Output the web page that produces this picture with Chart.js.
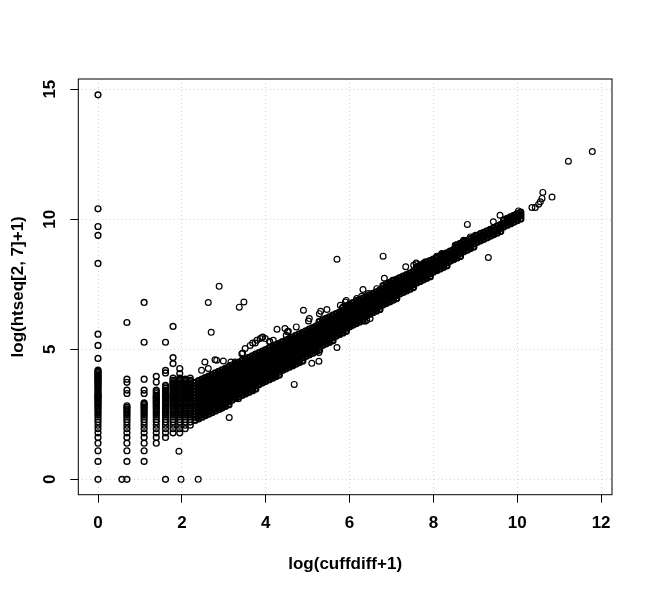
<!DOCTYPE html>
<html>
<head>
<meta charset="utf-8">
<title>cuffdiff vs htseq</title>
<script src="https://cdn.jsdelivr.net/npm/chart.js"></script>
<style>
  body { margin: 0; background: #fff; }
  canvas { display: block; }
</style>
</head>
<body>
<canvas id="scatter" width="653" height="593"></canvas>
<script>
// tick labels
const xTicks = [0, 2, 4, 6, 8, 10, 12];
const yTicks = [0, 5, 10, 15];

// low counts: vertical columns of points at discrete x values
const colX = [0, 0.57, 0.69, 1.10, 1.39, 1.61, 1.79, 1.95, 2.08, 2.20];
const colY = [
  [0, 0.69, 1.10, 1.39, 1.61, 1.79, 1.95, 2.08, 2.20, 2.30, 2.40, 2.48, 2.56, 2.64, 2.71, 2.77, 2.83, 2.89, 2.94, 3.00, 3.04, 3.09, 3.14, 3.18, 3.22, 3.26, 3.30, 3.37, 3.43, 3.50, 3.56, 3.61, 3.66, 3.71, 3.76, 3.81, 3.85, 3.89, 3.93, 3.97, 4.01, 4.06, 4.11, 4.16, 4.20, 4.65, 5.15, 5.58, 8.30, 9.38, 9.72, 10.40, 14.78],
  [0],
  [0, 0.69, 1.10, 1.39, 1.61, 1.79, 1.95, 2.08, 2.20, 2.30, 2.40, 2.48, 2.56, 2.64, 2.71, 2.77, 2.83, 3.30, 3.43, 3.73, 3.85, 6.03],
  [0.69, 1.10, 1.39, 1.61, 1.79, 1.95, 2.08, 2.20, 2.30, 2.40, 2.48, 2.56, 2.64, 2.71, 2.77, 2.83, 2.89, 2.94, 3.30, 3.43, 3.85, 5.27, 6.80],
  [1.39, 1.61, 1.79, 1.95, 2.08, 2.20, 2.30, 2.40, 2.48, 2.56, 2.64, 2.71, 2.77, 2.83, 2.89, 2.94, 3.00, 3.04, 3.09, 3.14, 3.18, 3.22, 3.30, 3.37, 3.43, 3.74, 3.96],
  [0, 1.61, 1.79, 1.95, 2.08, 2.20, 2.30, 2.40, 2.48, 2.56, 2.64, 2.71, 2.77, 2.83, 2.89, 2.94, 3.00, 3.04, 3.09, 3.14, 3.18, 3.22, 3.26, 3.30, 3.37, 3.43, 3.50, 3.56, 3.61, 4.09, 4.19, 5.27],
  [1.79, 1.95, 2.08, 2.20, 2.30, 2.40, 2.48, 2.56, 2.64, 2.71, 2.77, 2.83, 2.89, 2.94, 3.00, 3.04, 3.09, 3.14, 3.18, 3.22, 3.26, 3.30, 3.37, 3.43, 3.50, 3.56, 3.61, 3.66, 3.71, 3.76, 3.81, 3.89, 4.45, 4.68, 5.88],
  [1.79, 1.95, 2.08, 2.20, 2.30, 2.40, 2.48, 2.56, 2.64, 2.71, 2.77, 2.83, 2.89, 2.94, 3.00, 3.04, 3.09, 3.14, 3.18, 3.22, 3.26, 3.30, 3.37, 3.43, 3.50, 3.56, 3.61, 3.66, 3.71, 3.76, 3.81, 3.85, 3.89, 4.07, 4.26],
  [1.95, 2.08, 2.20, 2.30, 2.40, 2.48, 2.56, 2.64, 2.71, 2.77, 2.83, 2.89, 2.94, 3.00, 3.04, 3.09, 3.14, 3.18, 3.22, 3.26, 3.30, 3.33, 3.37, 3.40, 3.43, 3.47, 3.50, 3.53, 3.56, 3.61, 3.66, 3.71, 3.76, 3.81, 3.85],
  [2.08, 2.20, 2.30, 2.40, 2.48, 2.56, 2.64, 2.71, 2.77, 2.83, 2.89, 2.94, 3.00, 3.04, 3.09, 3.14, 3.18, 3.22, 3.26, 3.30, 3.33, 3.37, 3.40, 3.43, 3.47, 3.50, 3.53, 3.56, 3.61, 3.66, 3.71, 3.76, 3.81, 3.89]
];

// the dense diagonal band, read as vertical slices
const bandX = [2.32, 2.40, 2.48, 2.56, 2.64, 2.72, 2.80, 2.88, 2.96, 3.04, 3.12, 3.20, 3.28, 3.36, 3.44, 3.52, 3.60, 3.68, 3.76, 3.84,
  3.92, 4.00, 4.08, 4.16, 4.24, 4.32, 4.40, 4.48, 4.56, 4.64, 4.72, 4.80, 4.88, 4.96, 5.04, 5.12, 5.20, 5.28, 5.36, 5.44,
  5.52, 5.60, 5.68, 5.76, 5.84, 5.92, 6.00, 6.08, 6.16, 6.24, 6.32, 6.40, 6.48, 6.56, 6.64, 6.72, 6.80, 6.88, 6.96, 7.04,
  7.12, 7.20, 7.28, 7.36, 7.44, 7.52, 7.60, 7.68, 7.76, 7.84, 7.92, 8.00, 8.08, 8.16, 8.24, 8.32, 8.40, 8.48, 8.56, 8.64,
  8.72, 8.80, 8.88, 8.96, 9.04, 9.12, 9.20, 9.28, 9.36, 9.44, 9.52, 9.60, 9.68, 9.76, 9.84, 9.92, 10.00, 10.08];
const bandY = [
  [2.28, 2.40, 2.52, 2.64, 2.76, 2.88, 3.00, 3.12, 3.24, 3.36, 3.48, 3.60, 3.72],
  [2.34, 2.46, 2.58, 2.70, 2.82, 2.94, 3.06, 3.18, 3.30, 3.42, 3.54, 3.66, 3.78],
  [2.40, 2.52, 2.64, 2.76, 2.88, 3.00, 3.12, 3.24, 3.36, 3.48, 3.60, 3.72, 3.84],
  [2.46, 2.58, 2.70, 2.82, 2.94, 3.06, 3.18, 3.30, 3.42, 3.54, 3.66, 3.78, 3.90],
  [2.52, 2.64, 2.76, 2.88, 3.00, 3.12, 3.24, 3.36, 3.48, 3.60, 3.72, 3.84, 3.96],
  [2.58, 2.70, 2.82, 2.94, 3.06, 3.18, 3.30, 3.42, 3.54, 3.66, 3.78, 3.90, 4.02],
  [2.64, 2.76, 2.88, 3.00, 3.12, 3.24, 3.36, 3.48, 3.60, 3.72, 3.84, 3.96, 4.08],
  [2.70, 2.82, 2.94, 3.06, 3.18, 3.30, 3.42, 3.54, 3.66, 3.78, 3.90, 4.02, 4.14],
  [2.76, 2.88, 3.00, 3.12, 3.24, 3.36, 3.48, 3.60, 3.72, 3.84, 3.96, 4.08, 4.20],
  [2.82, 2.94, 3.06, 3.18, 3.30, 3.42, 3.54, 3.66, 3.78, 3.90, 4.02, 4.14, 4.26],
  [2.88, 3.00, 3.12, 3.24, 3.36, 3.48, 3.60, 3.72, 3.84, 3.96, 4.08, 4.20, 4.32],
  [3.06, 3.18, 3.30, 3.42, 3.54, 3.66, 3.78, 3.90, 4.02, 4.14, 4.26, 4.38],
  [3.12, 3.24, 3.36, 3.48, 3.60, 3.72, 3.84, 3.96, 4.08, 4.20, 4.32, 4.44],
  [3.18, 3.30, 3.42, 3.54, 3.66, 3.78, 3.90, 4.02, 4.14, 4.26, 4.38, 4.50],
  [3.24, 3.36, 3.48, 3.60, 3.72, 3.84, 3.96, 4.08, 4.20, 4.32, 4.44, 4.56],
  [3.30, 3.42, 3.54, 3.66, 3.78, 3.90, 4.02, 4.14, 4.26, 4.38, 4.50, 4.62],
  [3.36, 3.48, 3.60, 3.72, 3.84, 3.96, 4.08, 4.20, 4.32, 4.44, 4.56, 4.68],
  [3.42, 3.54, 3.66, 3.78, 3.90, 4.02, 4.14, 4.26, 4.38, 4.50, 4.62, 4.74],
  [3.48, 3.60, 3.72, 3.84, 3.96, 4.08, 4.20, 4.32, 4.44, 4.56, 4.68, 4.80],
  [3.66, 3.78, 3.90, 4.02, 4.14, 4.26, 4.38, 4.50, 4.62, 4.74, 4.86],
  [3.72, 3.84, 3.96, 4.08, 4.20, 4.32, 4.44, 4.56, 4.68, 4.80, 4.92],
  [3.78, 3.90, 4.02, 4.14, 4.26, 4.38, 4.50, 4.62, 4.74, 4.86, 4.98],
  [3.84, 3.96, 4.08, 4.20, 4.32, 4.44, 4.56, 4.68, 4.80, 4.92, 5.04],
  [3.90, 4.02, 4.14, 4.26, 4.38, 4.50, 4.62, 4.74, 4.86, 4.98, 5.10],
  [3.96, 4.08, 4.20, 4.32, 4.44, 4.56, 4.68, 4.80, 4.92, 5.04, 5.16],
  [4.02, 4.14, 4.26, 4.38, 4.50, 4.62, 4.74, 4.86, 4.98, 5.10, 5.22],
  [4.20, 4.32, 4.44, 4.56, 4.68, 4.80, 4.92, 5.04, 5.16, 5.28],
  [4.26, 4.38, 4.50, 4.62, 4.74, 4.86, 4.98, 5.10, 5.22, 5.34],
  [4.32, 4.44, 4.56, 4.68, 4.80, 4.92, 5.04, 5.16, 5.28, 5.40],
  [4.38, 4.50, 4.62, 4.74, 4.86, 4.98, 5.10, 5.22, 5.34, 5.46],
  [4.44, 4.56, 4.68, 4.80, 4.92, 5.04, 5.16, 5.28, 5.40, 5.52],
  [4.50, 4.62, 4.74, 4.86, 4.98, 5.10, 5.22, 5.34, 5.46, 5.58],
  [4.56, 4.68, 4.80, 4.92, 5.04, 5.16, 5.28, 5.40, 5.52, 5.64],
  [4.74, 4.86, 4.98, 5.10, 5.22, 5.34, 5.46, 5.58, 5.70],
  [4.80, 4.92, 5.04, 5.16, 5.28, 5.40, 5.52, 5.64, 5.76],
  [4.86, 4.98, 5.10, 5.22, 5.34, 5.46, 5.58, 5.70, 5.82],
  [4.92, 5.04, 5.16, 5.28, 5.40, 5.52, 5.64, 5.76, 5.88],
  [4.98, 5.10, 5.22, 5.34, 5.46, 5.58, 5.70, 5.82, 5.94, 6.06],
  [5.16, 5.28, 5.40, 5.52, 5.64, 5.76, 5.88, 6.00, 6.12],
  [5.22, 5.34, 5.46, 5.58, 5.70, 5.82, 5.94, 6.06, 6.18],
  [5.28, 5.40, 5.52, 5.64, 5.76, 5.88, 6.00, 6.12, 6.24],
  [5.34, 5.46, 5.58, 5.70, 5.82, 5.94, 6.06, 6.18, 6.30],
  [5.52, 5.64, 5.76, 5.88, 6.00, 6.12, 6.24, 6.36],
  [5.58, 5.70, 5.82, 5.94, 6.06, 6.18, 6.30, 6.42],
  [5.64, 5.76, 5.88, 6.00, 6.12, 6.24, 6.36, 6.48, 6.60],
  [5.70, 5.82, 5.94, 6.06, 6.18, 6.30, 6.42, 6.54, 6.66],
  [5.88, 6.00, 6.12, 6.24, 6.36, 6.48, 6.60, 6.72],
  [5.94, 6.06, 6.18, 6.30, 6.42, 6.54, 6.66, 6.78],
  [6.00, 6.12, 6.24, 6.36, 6.48, 6.60, 6.72, 6.84],
  [6.06, 6.18, 6.30, 6.42, 6.54, 6.66, 6.78, 6.90],
  [6.12, 6.24, 6.36, 6.48, 6.60, 6.72, 6.84, 6.96],
  [6.30, 6.42, 6.54, 6.66, 6.78, 6.90, 7.02],
  [6.36, 6.48, 6.60, 6.72, 6.84, 6.96, 7.08],
  [6.42, 6.54, 6.66, 6.78, 6.90, 7.02, 7.14],
  [6.48, 6.60, 6.72, 6.84, 6.96, 7.08, 7.20],
  [6.54, 6.66, 6.78, 6.90, 7.02, 7.14, 7.26],
  [6.72, 6.84, 6.96, 7.08, 7.20, 7.32, 7.44],
  [6.78, 6.90, 7.02, 7.14, 7.26, 7.38, 7.50],
  [6.84, 6.96, 7.08, 7.20, 7.32, 7.44, 7.56],
  [6.90, 7.02, 7.14, 7.26, 7.38, 7.50, 7.62],
  [6.96, 7.08, 7.20, 7.32, 7.44, 7.56, 7.68],
  [7.14, 7.26, 7.38, 7.50, 7.62, 7.74],
  [7.20, 7.32, 7.44, 7.56, 7.68, 7.80],
  [7.26, 7.38, 7.50, 7.62, 7.74, 7.86],
  [7.32, 7.44, 7.56, 7.68, 7.80, 7.92],
  [7.38, 7.50, 7.62, 7.74, 7.86, 7.98],
  [7.56, 7.68, 7.80, 7.92, 8.04, 8.16],
  [7.62, 7.74, 7.86, 7.98, 8.10, 8.22],
  [7.68, 7.80, 7.92, 8.04, 8.16, 8.28],
  [7.74, 7.86, 7.98, 8.10, 8.22, 8.34],
  [7.80, 7.92, 8.04, 8.16, 8.28, 8.40],
  [7.98, 8.10, 8.22, 8.34, 8.46],
  [8.04, 8.16, 8.28, 8.40, 8.52],
  [8.10, 8.22, 8.34, 8.46, 8.58],
  [8.16, 8.28, 8.40, 8.52, 8.64],
  [8.22, 8.34, 8.46, 8.58, 8.70],
  [8.40, 8.52, 8.64, 8.76],
  [8.46, 8.58, 8.70, 8.82],
  [8.52, 8.64, 8.76, 8.88, 9.00],
  [8.58, 8.70, 8.82, 8.94, 9.06],
  [8.76, 8.88, 9.00, 9.12],
  [8.82, 8.94, 9.06, 9.18],
  [8.88, 9.00, 9.12, 9.24],
  [8.94, 9.06, 9.18, 9.30],
  [9.12, 9.24, 9.36],
  [9.18, 9.30, 9.42],
  [9.24, 9.36, 9.48],
  [9.30, 9.42, 9.54],
  [9.36, 9.48, 9.60],
  [9.42, 9.54, 9.66],
  [9.48, 9.60, 9.72],
  [9.54, 9.66, 9.78],
  [9.72, 9.84, 9.96],
  [9.78, 9.90, 10.02],
  [9.84, 9.96, 10.08],
  [9.90, 10.02, 10.14],
  [9.96, 10.08, 10.20],
  [10.02, 10.14, 10.26]
];

// scattered points: fringe along the band and outliers
const outX = [1.93, 1.98, 2.39, 3.13, 4.68, 5.10, 5.27, 5.27, 5.70, 6.41, 6.37, 6.49, 9.31, 2.91, 3.35, 3.69, 4.22,
  2.70, 2.63, 2.89, 3.37, 3.48, 4.27, 4.90, 5.70, 6.80, 6.32, 6.83, 7.34, 8.81, 9.59, 9.43, 10.03, 10.07,
  10.35, 10.43, 10.51, 10.55, 10.59, 10.61, 10.83, 11.22, 11.79,
  2.47, 2.55, 2.63, 2.79, 2.83, 2.99, 3.15, 3.17, 3.27, 3.29, 3.43, 3.45, 3.51, 3.63, 3.69, 3.75, 3.79, 3.87,
  3.91, 3.93, 3.99, 4.09, 4.10, 4.18, 4.46, 4.49, 4.52, 4.54, 4.73, 5.02, 5.04, 5.28, 5.31, 5.46, 5.78, 5.90,
  5.92, 6.17, 6.17, 6.29, 6.45, 6.65, 7.03, 7.05, 7.17, 7.53, 7.59, 7.59, 7.84, 7.80, 8.08, 8.20, 8.20, 8.28,
  8.52, 8.54, 8.56, 8.66, 8.72, 8.72, 8.88, 9.00, 9.12, 9.79, 9.87, 9.95];
const outY = [1.08, 0, 0, 2.38, 3.65, 4.46, 4.54, 4.88, 5.07, 6.12, 6.08, 6.18, 8.53, 2.70, 3.10, 3.42, 3.95,
  5.65, 6.80, 7.42, 6.62, 6.82, 5.77, 6.50, 8.46, 8.58, 7.30, 7.73, 8.17, 9.80, 10.15, 9.90, 10.32, 10.20,
  10.45, 10.45, 10.58, 10.67, 10.80, 11.03, 10.85, 12.23, 12.60,
  4.19, 4.51, 4.26, 4.60, 4.58, 4.55, 4.38, 4.51, 4.51, 4.42, 4.83, 4.86, 5.03, 5.15, 5.24, 5.24, 5.35, 5.41,
  5.45, 5.47, 5.41, 5.31, 5.28, 5.35, 5.80, 5.54, 5.67, 5.69, 5.86, 6.09, 6.18, 6.37, 6.46, 6.53, 6.69, 6.82,
  6.88, 6.88, 6.95, 7.04, 7.14, 7.33, 7.65, 7.65, 7.72, 8.23, 8.29, 8.32, 8.36, 8.36, 8.58, 8.65, 8.68, 8.65,
  9.00, 9.00, 8.93, 9.06, 9.15, 9.19, 9.32, 9.38, 9.45, 10.03, 10.09, 10.15];

const colPoints = [];
colX.forEach((x, i) => colY[i].forEach(y => colPoints.push({x: x, y: y})));
const bandPoints = [];
bandX.forEach((x, i) => bandY[i].forEach(y => bandPoints.push({x: x, y: y})));
const outPoints = outX.map((x, i) => ({x: x, y: outY[i]}));

const axisFont = {family: "'Liberation Sans', Arial, sans-serif", size: 17, weight: 'bold'};

function circles(data, lw) {
  return {
    data: data,
    pointStyle: 'circle',
    pointRadius: 2.9,
    pointHoverRadius: 2.9,
    borderWidth: lw,
    borderColor: '#000',
    backgroundColor: 'rgba(0,0,0,0)'
  };
}

// R-style closed box around the plotting region
const boxPlugin = {
  id: 'box',
  afterDraw(chart) {
    const {ctx, chartArea: a} = chart;
    ctx.save();
    ctx.strokeStyle = '#000';
    ctx.lineWidth = 1;
    ctx.strokeRect(a.left, a.top, a.right - a.left, a.bottom - a.top);
    ctx.restore();
  }
};

new Chart(document.getElementById('scatter'), {
  type: 'scatter',
  data: {
    datasets: [circles(bandPoints, 2.0), circles(colPoints, 1.4), circles(outPoints, 1.2)]
  },
  options: {
    responsive: false,
    animation: false,
    events: [],
    layout: {padding: {top: 79, right: 41, left: 0, bottom: 0}},
    plugins: {legend: {display: false}, tooltip: {enabled: false}},
    scales: {
      x: {
        type: 'linear',
        min: -0.47,
        max: 12.26,
        afterBuildTicks: s => { s.ticks = xTicks.map(v => ({value: v})); },
        afterFit: s => { s.height = 98.3; },
        grid: {color: '#d3d3d3', lineWidth: 1, tickColor: '#000', tickLength: 8, tickWidth: 1},
        border: {display: false, dash: [1, 3]},
        ticks: {color: '#000', font: axisFont, padding: 10, maxRotation: 0, autoSkip: false},
        title: {display: true, text: 'log(cuffdiff+1)', color: '#000', font: axisFont, padding: {top: 0, bottom: 18}}
      },
      y: {
        type: 'linear',
        min: -0.59,
        max: 15.39,
        afterBuildTicks: s => { s.ticks = yTicks.map(v => ({value: v})); },
        afterFit: s => { s.width = 78.3; },
        grid: {color: '#d3d3d3', lineWidth: 1, tickColor: '#000', tickLength: 8, tickWidth: 1},
        border: {display: false, dash: [1, 3]},
        ticks: {color: '#000', font: axisFont, padding: 11, minRotation: 90, maxRotation: 90, crossAlign: 'center', autoSkip: false},
        title: {display: true, text: 'log(htseq[2, 7]+1)', color: '#000', font: axisFont, padding: {top: 8, bottom: 0}}
      }
    }
  },
  plugins: [boxPlugin]
});
</script>
</body>
</html>
